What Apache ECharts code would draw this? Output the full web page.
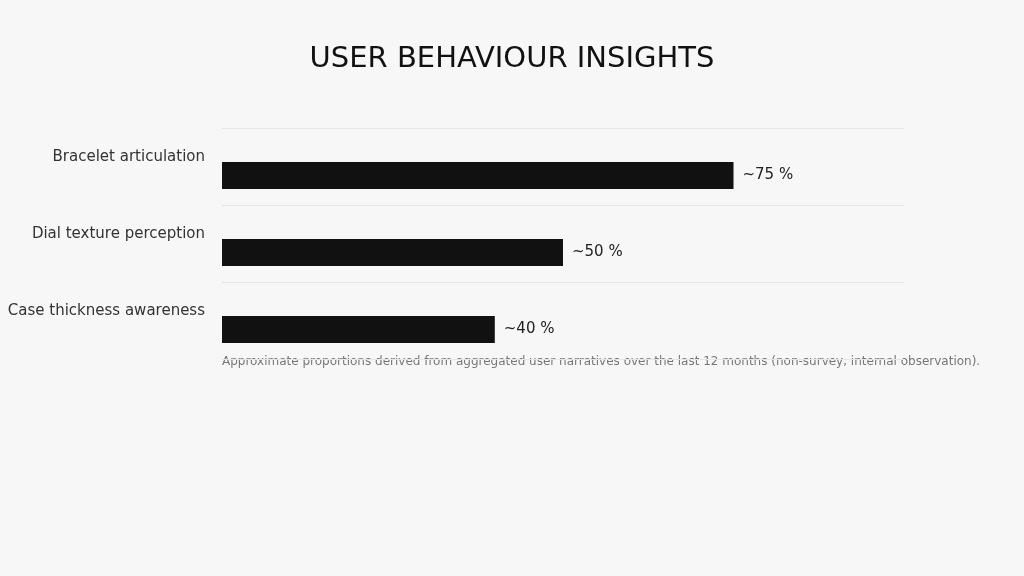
<!DOCTYPE html>
<html><head><meta charset="utf-8">
<script src="https://cdn.jsdelivr.net/npm/echarts@6/dist/echarts.min.js"></script>
<style>html,body{margin:0;background:#f7f7f7}#c{width:1024px;height:576px}</style>
</head><body><div id="c"></div>
<script>
const categories = ['Bracelet articulation', 'Dial texture perception', 'Case thickness awareness'];
const values = [75, 50, 40];
const valueLabels = ['~75 %', '~50 %', '~40 %'];
const chart = echarts.init(document.getElementById('c'));
chart.setOption({
  backgroundColor: '#f7f7f7',
  textStyle: {fontFamily: 'DejaVu Sans'},
  title: {text: 'USER BEHAVIOUR INSIGHTS', left: 'center', top: 40,
    textStyle: {fontSize: 29, fontWeight: 'normal', color: '#111', fontFamily: 'DejaVu Sans', letterSpacing: 3}},
  graphic: [{type: 'text', left: 222, top: 356,
    style: {text: 'Approximate proportions derived from aggregated user narratives over the last 12 months (non-survey, internal observation).',
      fontSize: 12, fill: '#777', fontFamily: 'DejaVu Sans'}}],
  grid: [
    {left: 222, top: 128, width: 682, height: 231},
    {left: 222, top: 137, width: 682, height: 231}
  ],
  xAxis: [
    {gridIndex: 0, type: 'value', min: 0, max: 100, show: false},
    {gridIndex: 1, type: 'value', min: 0, max: 100, show: false}
  ],
  yAxis: [
    {gridIndex: 0, type: 'category', inverse: true, data: categories,
      axisLine: {show: false}, axisTick: {show: false}, axisLabel: {show: false},
      splitLine: {show: true, lineStyle: {color: '#e6e6e6', width: 1}}},
    {gridIndex: 1, type: 'category', inverse: true, data: categories,
      axisLine: {show: false}, axisTick: {show: false}, splitLine: {show: false},
      axisLabel: {color: '#333', fontSize: 15, margin: 17, verticalAlign: 'bottom', padding: [0, 0, 11, 0]}}
  ],
  series: [{
    type: 'bar', xAxisIndex: 1, yAxisIndex: 1, data: values, barWidth: 27,
    itemStyle: {color: '#111'},
    label: {show: true, position: 'right', distance: 9, color: '#222', fontSize: 15,
      formatter: p => valueLabels[p.dataIndex]}
  }]
});
</script></body></html>
